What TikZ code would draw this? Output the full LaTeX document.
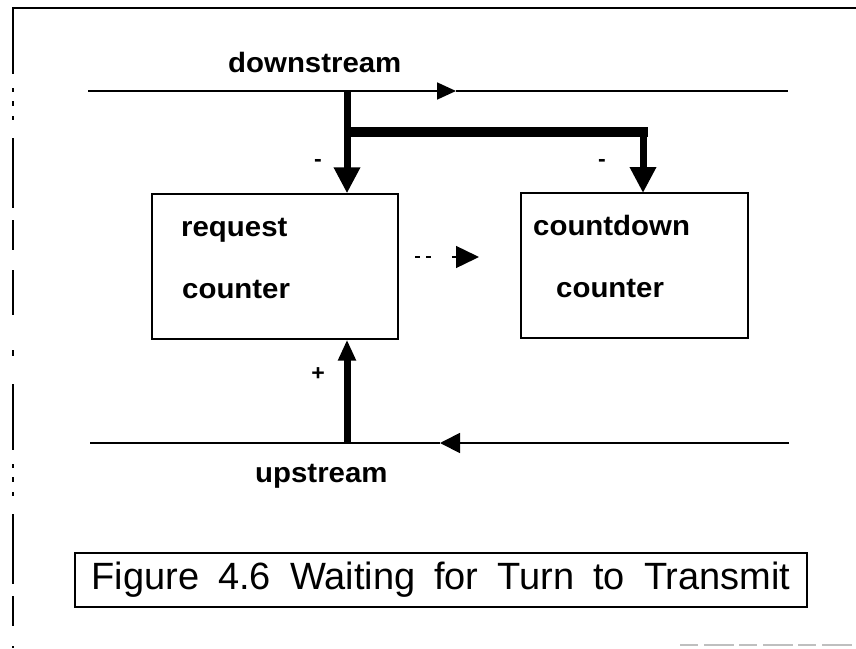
\documentclass[tikz,border=0pt]{standalone}
\usepackage{fontspec}
\setmainfont{Liberation Sans}
\newfontfamily\lblfont{Liberation Sans}[FakeStretch=1.05]
\usetikzlibrary{arrows.meta}

\tikzset{
  lbl/.style={font=\lblfont\bfseries\fontsize{28}{30}\selectfont, inner sep=0pt, anchor=base west},
  sign/.style={font=\lblfont\bfseries\fontsize{22}{24}\selectfont, inner sep=0pt},
  counterbox/.style={draw, line width=1.4pt, inner sep=0pt},
  bus/.style={line width=1.8pt},
  feed/.style={line width=7pt},
  feedtip/.style={-{Triangle[length=26pt,width=25pt]}},
  uptip/.style={-{Triangle[length=21pt,width=17pt]}},
  frameline/.style={line width=1.8pt},
}

\begin{document}
\begin{tikzpicture}[x=1pt, y=-1pt]
\useasboundingbox (0,0) rectangle (856,648);

% outer frame (top and left edges only)
\draw[frameline] (12,8) -- (856,8);
\draw[line width=1.5pt, dash pattern=on 66pt off 14pt on 4pt off 9pt on 5pt off 10pt on 4pt off 18pt on 70pt off 12pt on 30pt off 20pt on 45pt off 35pt on 6pt off 28pt]
  (13,8) -- (13,648);
\draw[line width=1.5pt, black!25, dash pattern=on 18pt off 6pt on 30pt off 5pt]
  (680,645) -- (856,645);

% the two counters
\node[counterbox, minimum width=246pt, minimum height=145pt] (req) at (275,266.5) {};
\node[counterbox, minimum width=227pt, minimum height=145pt] (cnt) at (634.5,265.5) {};

\node[lbl] (reqA) at (181,236) {request};
\node[lbl] (reqB) at (182,298) {counter};
\node[lbl] (cntA) at (533,235) {countdown};
\node[lbl] (cntB) at (556,297) {counter};

% downstream bus
\coordinate (dsL) at (88,91);
\coordinate (dsR) at (788,91);
\coordinate (dsTip) at (456,91);
\coordinate (tap) at (347,91);
\draw[bus, -{Triangle[length=19pt,width=17pt]}] (dsL) -- (dsTip);
\draw[bus] (dsTip) -- (dsR);
\node[lbl] (dslbl) at (228,72) {downstream};

% upstream bus
\coordinate (usL) at (90,443);
\coordinate (usR) at (789,443);
\coordinate (usTip) at (440,443);
\coordinate (utap) at (347,443);
\draw[bus, -{Triangle[length=20pt,width=20pt]}] (usR) -- (usTip);
\draw[bus] (usTip) -- (usL);
\node[lbl] (uslbl) at (255,482) {upstream};

% decrement feeds from the downstream bus
\coordinate (fork) at (347,132);
\coordinate (corner) at (648,132);
\draw[feed, feedtip] (tap) -- (tap |- req.north);
\draw[line width=10pt] (fork) -- (corner);
\draw[feed, feedtip] (643,127) -- (643,193);
\node[sign] (m1) at (318,163) {-};
\node[sign] (m2) at (602,163) {-};

% increment feed from the upstream bus
\draw[feed, uptip] (utap) -- (utap |- req.south);
\node[sign] (p1) at (318,374) {+};

% hand-over between the counters
\coordinate (hA) at (415,257);
\coordinate (hB) at (431,257);
\coordinate (hC) at (452,257);
\coordinate (hD) at (479,257);
\draw[line width=1.4pt, dash pattern=on 5pt off 6pt] (hA) -- (hB);
\draw[line width=1.4pt, -{Triangle[length=23pt,width=22pt]}] (hC) -- (hD);

% caption
\node[draw, line width=1.3pt, minimum width=732pt, minimum height=54pt, inner sep=0pt,
      font=\fontsize{38}{40}\selectfont] (cap) at (441,580)
  {\spaceskip=19pt Figure 4.6 Waiting for Turn to Transmit};
\end{tikzpicture}
\end{document}
